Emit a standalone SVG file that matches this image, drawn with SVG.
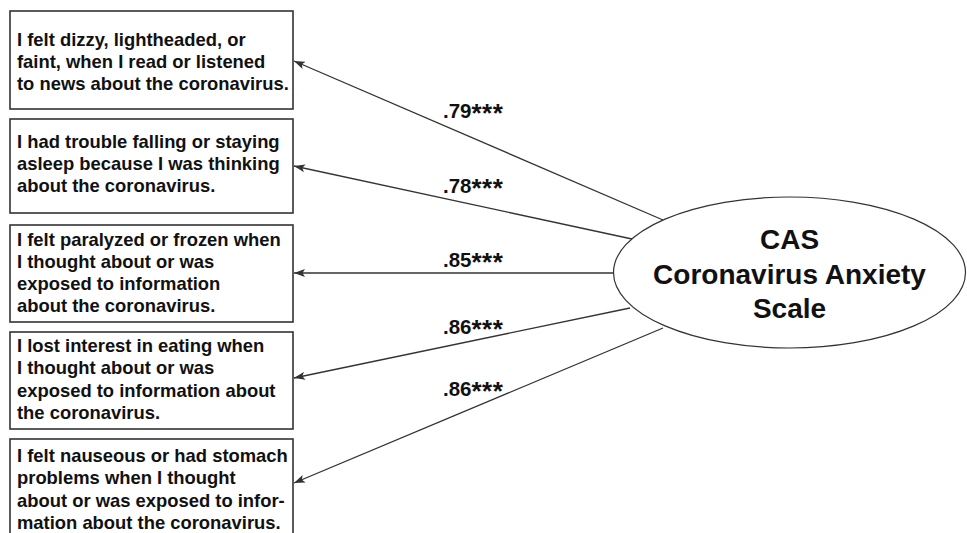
<svg xmlns="http://www.w3.org/2000/svg" width="967" height="533" viewBox="0 0 967 533">
<style>
.box{fill:#fff;stroke:#333;stroke-width:1.6}
.item{font-family:"Liberation Sans",Arial,sans-serif;font-weight:bold;font-size:18.4px;fill:#111}
.lat{fill:#fff;stroke:#333;stroke-width:1.2}
.latt{font-family:"Liberation Sans",Arial,sans-serif;font-weight:bold;font-size:28px;fill:#111;text-anchor:middle}
.conn{stroke:#333;stroke-width:1.3;fill:none;marker-end:url(#ah)}
.lbl{font-family:"Liberation Sans",Arial,sans-serif;font-weight:bold;font-size:20.5px;fill:#111}
.st{font-size:26px;letter-spacing:0.5px}
</style>
<defs>
<marker id="ah" markerUnits="userSpaceOnUse" markerWidth="12" markerHeight="8" refX="11" refY="4" orient="auto">
<path d="M0,0 L11,4 L0,8 L2.5,4 z" fill="#333"/>
</marker>
</defs>
<rect width="967" height="533" fill="#fff"/>
<g id="connectors">
<line class="conn" x1="663" y1="220" x2="294" y2="61"/>
<line class="conn" x1="632" y1="239" x2="294" y2="166"/>
<line class="conn" x1="614" y1="273" x2="294" y2="273"/>
<line class="conn" x1="630" y1="308" x2="294" y2="378"/>
<line class="conn" x1="663" y1="328" x2="294" y2="483"/>
<text class="lbl" x="443" y="118">.79<tspan class="st" dy="4">***</tspan></text>
<text class="lbl" x="443" y="193">.78<tspan class="st" dy="4">***</tspan></text>
<text class="lbl" x="443" y="267">.85<tspan class="st" dy="4">***</tspan></text>
<text class="lbl" x="443" y="334">.86<tspan class="st" dy="4">***</tspan></text>
<text class="lbl" x="443" y="396">.86<tspan class="st" dy="4">***</tspan></text>
</g>
<g id="item1">
<rect class="box" x="10" y="11" width="283" height="98"/>
<text class="item" x="17" y="46">I felt dizzy, lightheaded, or</text>
<text class="item" x="17" y="68">faint, when I read or listened</text>
<text class="item" x="17" y="90">to news about the coronavirus.</text>
</g>
<g id="item2">
<rect class="box" x="10" y="119" width="283" height="94"/>
<text class="item" x="17" y="148">I had trouble falling or staying</text>
<text class="item" x="17" y="170">asleep because I was thinking</text>
<text class="item" x="17" y="192">about the coronavirus.</text>
</g>
<g id="item3">
<rect class="box" x="10" y="225" width="283" height="97"/>
<text class="item" x="17" y="246">I felt paralyzed or frozen when</text>
<text class="item" x="17" y="268">I thought about or was</text>
<text class="item" x="17" y="290">exposed to information</text>
<text class="item" x="17" y="312">about the coronavirus.</text>
</g>
<g id="item4">
<rect class="box" x="10" y="332" width="283" height="97"/>
<text class="item" x="17" y="352">I lost interest in eating when</text>
<text class="item" x="17" y="374">I thought about or was</text>
<text class="item" x="17" y="397">exposed to information about</text>
<text class="item" x="17" y="419">the coronavirus.</text>
</g>
<g id="item5">
<rect class="box" x="10" y="439" width="283" height="100"/>
<text class="item" x="17" y="462">I felt nauseous or had stomach</text>
<text class="item" x="17" y="484">problems when I thought</text>
<text class="item" x="17" y="507">about or was exposed to infor-</text>
<text class="item" x="17" y="529">mation about the coronavirus.</text>
</g>
<g id="cas">
<ellipse class="lat" cx="789.5" cy="272.5" rx="176" ry="75.5"/>
<text class="latt" x="789.5" y="249">CAS</text>
<text class="latt" x="789.5" y="284">Coronavirus Anxiety</text>
<text class="latt" x="789.5" y="318">Scale</text>
</g>
</svg>
